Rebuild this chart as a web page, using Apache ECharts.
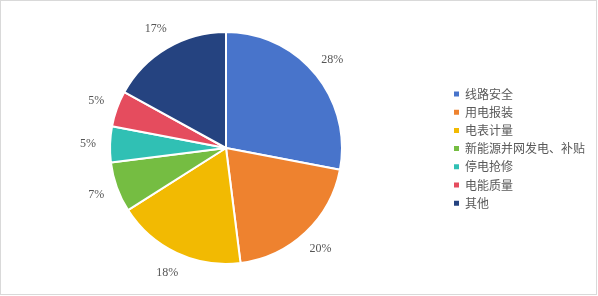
<!DOCTYPE html>
<html>
<head>
<meta charset="utf-8">
<script src="https://cdn.jsdelivr.net/npm/echarts@6/dist/echarts.min.js"></script>
<style>
html,body{margin:0;padding:0;background:#fff;}
#box{position:absolute;left:0;top:0;width:595px;height:293px;border:1px solid #d9d9d9;}
#main{width:595px;height:293px;}
</style>
</head>
<body>
<div id="box"><div id="main"></div></div>
<script>
const categories = ['线路安全', '用电报装', '电表计量', '新能源并网发电、补贴', '停电抢修', '电能质量', '其他'];
const values = [28, 20, 18, 7, 5, 5, 17];
const colors = ['#4874CB', '#EE822F', '#F2BA02', '#75BD42', '#30C0B4', '#E54C5E', '#254380'];

const chart = echarts.init(document.getElementById('main'), null, {renderer: 'canvas'});
const pieData = categories.map((c, i) => ({name: c, value: values[i], itemStyle: {color: colors[i]}}));
const labelData = categories.map((c, i) => ({name: c, value: values[i]}));

chart.setOption({
  animation: false,
  legend: {
    orient: 'vertical',
    left: 451,
    top: 87,
    padding: 0,
    icon: 'rect',
    itemWidth: 7,
    itemHeight: 7,
    itemGap: 6.2,
    textStyle: {fontFamily: '"Noto Sans CJK SC", sans-serif', fontSize: 12, color: '#595959', lineHeight: 12},
    data: categories.map((c, i) => ({name: c, itemStyle: {color: colors[i]}}))
  },
  series: [
    {
      type: 'pie',
      center: [225, 147],
      radius: [0, 116],
      startAngle: 90,
      clockwise: true,
      avoidLabelOverlap: false,
      itemStyle: {borderColor: '#fff', borderWidth: 2},
      label: {show: false},
      labelLine: {show: false},
      emphasis: {disabled: true},
      data: pieData
    },
    {
      type: 'pie',
      center: [225, 147],
      radius: [116, 154],
      startAngle: 90,
      clockwise: true,
      silent: true,
      avoidLabelOverlap: false,
      itemStyle: {color: 'rgba(0,0,0,0)', borderWidth: 0},
      label: {
        show: true,
        position: 'inside',
        formatter: function (p) { return p.value + '%'; },
        fontFamily: '"Liberation Serif", "Times New Roman", serif',
        fontSize: 12,
        fontWeight: 'normal',
        color: '#555555',
        textBorderWidth: 0,
        textBorderColor: 'transparent'
      },
      labelLine: {show: false},
      emphasis: {disabled: true},
      data: labelData
    }
  ]
});
</script>
</body>
</html>
